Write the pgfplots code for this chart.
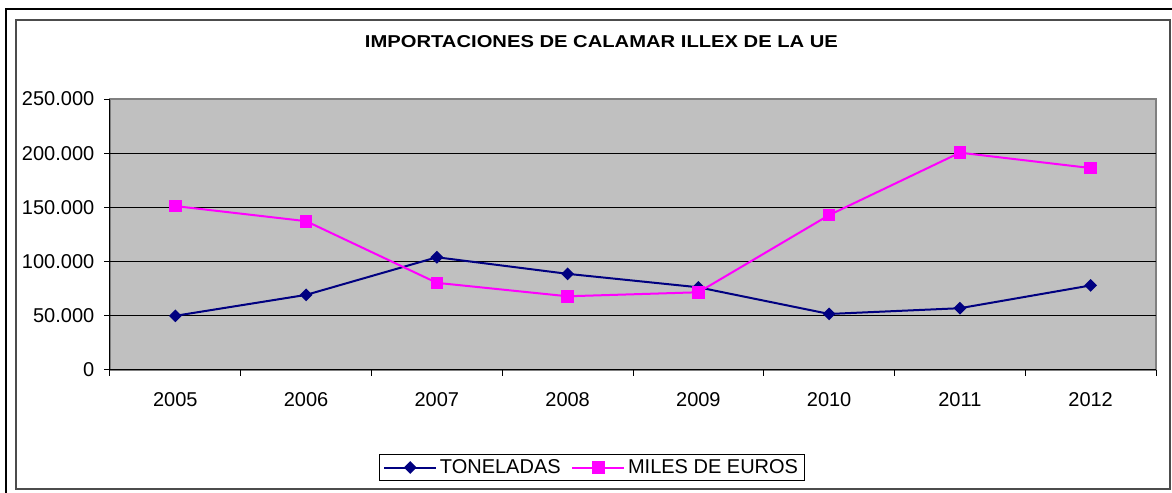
\documentclass[border=0pt]{standalone}
\usepackage{fontspec}
\setmainfont{Liberation Sans}
\usepackage{pgfplots}
\pgfplotsset{compat=1.18}
\usepackage{graphicx}
\definecolor{bggray}{RGB}{192,192,192}
\definecolor{frgray}{RGB}{128,128,128}
\definecolor{navy}{RGB}{0,0,128}
\definecolor{mag}{RGB}{255,0,255}
\begin{document}
\begin{tikzpicture}
\useasboundingbox (0,0) rectangle (879pt,369.75pt);
\fill[white] (0,0) rectangle (879pt,369.75pt);
\draw[black, line width=1.5pt] (4.5pt,0) -- (4.5pt,363pt) -- (879pt,363pt);
\draw[black!70, line width=1pt] (12pt,3pt) rectangle (877.5pt,354.75pt);
\node[anchor=center, inner sep=0pt] at (451.1pt,338.25pt) {\resizebox{354.75pt}{9pt}{\bfseries IMPORTACIONES DE CALAMAR ILLEX DE LA UE}};
\begin{axis}[
  at={(82.5pt,92.25pt)}, anchor=south west,
  scale only axis, width=784.5pt, height=203.25pt,
  xmin=-0.5, xmax=7.5, ymin=0, ymax=250000,
  scaled y ticks=false,
  axis background/.style={fill=bggray, draw=frgray, line width=1pt},
  axis x line*=bottom, axis y line*=left,
  axis line style={black, line width=0.75pt},
  xtick={0,...,7}, xticklabels={2005,2006,2007,2008,2009,2010,2011,2012},
  major x tick style={draw=none},
  minor xtick={-0.5,0.5,...,7.5},
  ytick={0,50000,100000,150000,200000},
  yticklabels={0,50.000,100.000,150.000,200.000},
  extra y ticks={250000}, extra y tick labels={250.000},
  extra y tick style={grid=none},
  ymajorgrids, grid style={black, line width=0.75pt},
  tick align=outside, major tick length=4.5pt, minor tick length=4.5pt,
  tick style={black, line width=0.75pt},
  ticklabel style={font=\fontsize{15}{18}\selectfont},
  yticklabel style={xshift=-3.75pt},
  xticklabel style={yshift=-9pt},
  legend style={at={(0.4608,-0.3598)}, anchor=center, legend columns=2,
    draw=black, line width=0.75pt, font=\fontsize{15}{18}\selectfont,
    /tikz/every even column/.append style={column sep=6pt}},
  legend image code/.code={\draw[mark repeat=2,mark phase=2,#1] plot coordinates {(0pt,0pt) (19.5pt,0pt) (39pt,0pt)};},
]
\addplot[navy, line width=1.5pt, mark=square*, mark size=2.65pt, mark options={rotate=45, solid, fill=navy}]
  coordinates {(0,50000) (1,69300) (2,104000) (3,88700) (4,76300) (5,51700) (6,57000) (7,78000)};
\addlegendentry{TONELADAS}
\addplot[mag, line width=1.5pt, mark=square*, mark size=4pt, mark options={solid, fill=mag}]
  coordinates {(0,151200) (1,137300) (2,80400) (3,68000) (4,71700) (5,142900) (6,200500) (7,186300)};
\addlegendentry{MILES DE EUROS}
\end{axis}
\end{tikzpicture}
\end{document}
